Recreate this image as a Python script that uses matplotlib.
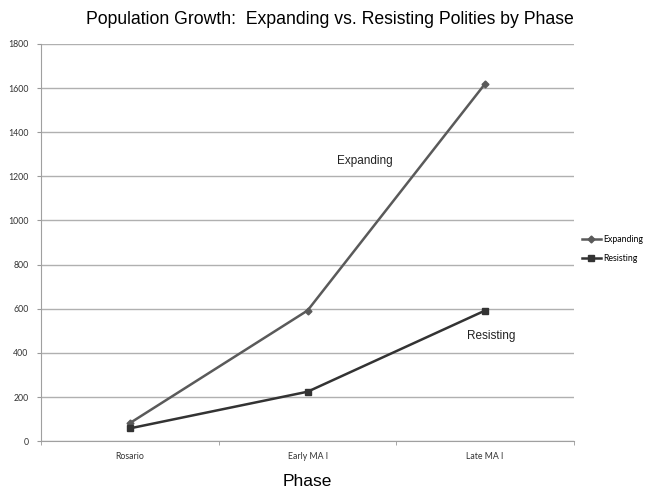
import matplotlib
matplotlib.use("Agg")
import matplotlib.pyplot as plt
import numpy as np

phases = ["Rosario", "Early MA I", "Late MA I"]
expanding = [82, 592, 1620]
resisting = [58, 224, 592]


def main():
    fig = plt.figure(figsize=(6.53, 4.88), dpi=100)
    ax = fig.add_axes([0.063, 0.096, 0.816, 0.814])
    x = np.arange(len(phases))

    ax.plot(x, expanding, marker='D', markersize=3.5, color='#5a5a5a',
            linewidth=1.8, label='Expanding')
    ax.plot(x, resisting, marker='s', markersize=5, color='#333333',
            linewidth=1.8, label='Resisting')

    ax.set_xlim(-0.5, 2.5)
    ax.set_ylim(0, 1800)
    ax.set_yticks(np.arange(0, 1801, 200))
    ax.grid(axis='y', color='#b0b0b0', linewidth=1)
    ax.set_axisbelow(True)

    ax.set_xticks(x)
    ax.set_xticklabels(phases, fontsize=6.3, family='Lato', color='#333333')
    ax.set_xticks([-0.5, 0.5, 1.5, 2.5], minor=True)
    ax.tick_params(axis='x', which='major', length=0, pad=8)
    ax.tick_params(axis='x', which='minor', length=3, color='#999999')
    ax.tick_params(axis='y', labelsize=6.3, length=3, color='#999999',
                   labelcolor='#333333', pad=6)
    for lbl in ax.get_yticklabels():
        lbl.set_family('Lato')

    for side in ['top', 'right']:
        ax.spines[side].set_visible(False)
    for side in ['left', 'bottom']:
        ax.spines[side].set_color('#a0a0a0')

    ax.text(1.325, 1270, "Expanding", fontsize=8.5, family='Liberation Sans',
            ha='center', va='center', color='#222222')
    ax.text(2.035, 475, "Resisting", fontsize=8.5, family='Liberation Sans',
            ha='center', va='center', color='#222222')

    ax.set_xlabel("Phase", fontsize=12.5, family='Liberation Sans', labelpad=9)
    fig.suptitle("Population Growth:  Expanding vs. Resisting Polities by Phase",
                 fontsize=12.7, family='Liberation Sans', x=0.505, y=0.978)

    ax.legend(loc='center left', bbox_to_anchor=(1.0, 0.483), frameon=False,
              handlelength=2.2, handletextpad=0.2, labelspacing=1.1,
              prop={'family': 'Lato', 'size': 6.3})

    fig.savefig("out.png", dpi=100)


if __name__ == "__main__":
    main()
